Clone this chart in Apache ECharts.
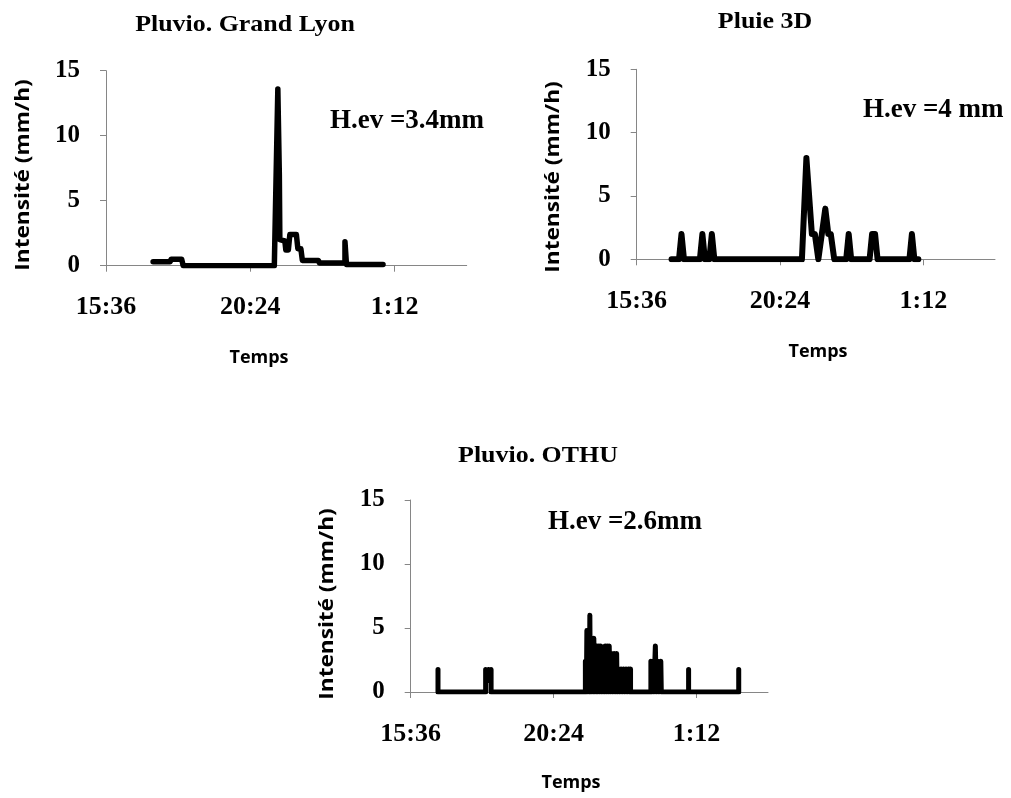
<!DOCTYPE html>
<html>
<head>
<meta charset="utf-8">
<script src="https://cdn.jsdelivr.net/npm/echarts@6/dist/echarts.min.js"></script>
<style>html,body{margin:0;padding:0;background:#fff}#c{width:1011px;height:798px}</style>
</head>
<body>
<div id="c"></div>
<script>
// ---- Data (clock times and intensities in mm/h) ----
const titles = ["Pluvio. Grand Lyon", "Pluie 3D", "Pluvio. OTHU"];
const hevLabels = ["H.ev =3.4mm", "H.ev =4 mm", "H.ev =2.6mm"];
const xTickLabels = ["15:36", "20:24", "1:12"];
const yTicks = [0, 5, 10, 15];

const grandLyonTime = ["17:10","17:44","17:46","18:07","18:10","21:12","21:19","21:22","21:23","21:33","21:35","21:40","21:43","21:56","21:59","22:05","22:08","22:40","22:42","23:33","23:33","23:36","23:36","0:49"];
const grandLyonValue = [0.3,0.3,0.5,0.5,0,0,13.6,7.0,2.0,1.9,1.2,1.2,2.4,2.4,1.3,1.3,0.4,0.4,0.2,0.2,1.85,1.85,0.1,0.1];

const pluie3dTime = ["16:46","17:01","17:06","17:11","17:43","17:48","17:53","18:02","18:07","18:12","21:08","21:17","21:28","21:34","21:41","21:55","22:01","22:06","22:13","22:37","22:42","22:47","23:24","23:29","23:35","23:40","0:44","0:49","0:54","1:02"];
const pluie3dValue = [0,0,2,0,0,2,0,0,2,0,0,8,2,2,0,4,2,2,0,0,2,0,0,2,2,0,0,2,0,0];

const othuTime = ["16:31","16:31","18:07","18:07","18:10","18:13","18:16","18:18","18:18",
  "21:28","21:28","21:30","21:31","21:33","21:34","21:36","21:37","21:38","21:39","21:41","21:42","21:44","21:45","21:47",
  "21:48","21:50","21:51","21:53","21:55","21:57","21:59","22:01","22:04","22:06","22:08","22:10","22:12","22:14","22:16","22:18",
  "22:21","22:23","22:26","22:28","22:31","22:32","22:35","22:37","22:40","22:42","22:45","22:47","22:50","22:52","22:55","22:57","22:59","22:59",
  "23:40","23:40","23:42","23:44","23:46","23:49","23:51","23:54","23:56","0:00","0:01",
  "0:56","0:56","0:56","2:37","2:37"];
const othuValue = [1.75,0,0,1.75,0.9,1.75,0.9,1.75,0,
  0,2.4,0,4.8,0,4.8,0,6.0,0,4.2,0,4.2,0,4.2,0,
  3.6,0,3.6,0,3.6,0,3.6,0,1.2,0,3.6,0,3.6,0,3.6,0,
  3.0,0,3.0,0,3.0,0,1.8,0,1.8,0,1.8,0,1.8,0,1.8,0,1.8,0,
  0,2.4,0,2.4,0,3.6,0,2.4,0,2.4,0,
  0,1.75,0,0,1.75];

// ---- helpers ----
const T0 = 15 * 60 + 36; // 15:36 axis origin
function toOffsetHours(t) {
  const p = t.split(':').map(Number);
  let mins = p[0] * 60 + p[1];
  if (mins < T0 - 60) mins += 1440;
  return (mins - T0) / 60;
}
function fmtClock(v) {
  let mins = Math.round(v * 60) + T0;
  mins = ((mins % 1440) + 1440) % 1440;
  return Math.floor(mins / 60) + ':' + String(mins % 60).padStart(2, '0');
}
function pairs(times, values) { return times.map((t, i) => [toOffsetHours(t), values[i]]); }

const seriesData = [pairs(grandLyonTime, grandLyonValue), pairs(pluie3dTime, pluie3dValue), pairs(othuTime, othuValue)];

const grids = [
  {left: 106, top: 70.7, width: 360.7, height: 195},
  {left: 636.7, top: 69.3, width: 358.3, height: 190},
  {left: 410.7, top: 500, width: 357.3, height: 192}
];
const serif = '"Liberation Serif", "Times New Roman", serif';
const sans = '"Open Sans", "Liberation Sans", sans-serif';
const axisGray = '#868686';
const xTickVals = xTickLabels.map((s, i) => i * 4.8);
const lineWidths = [5.5, 6, 5];

const xAxes = grids.map((g, i) => ({
  gridIndex: i, type: 'value', min: 0, max: 12, interval: 4.8,
  axisLine: {show: true, onZero: false, lineStyle: {color: axisGray, width: 1}},
  axisTick: {show: true, length: 6, lineStyle: {color: axisGray}, customValues: xTickVals},
  splitLine: {show: false},
  axisLabel: {customValues: xTickVals, formatter: fmtClock, margin: 29, color: '#000',
    fontFamily: serif, fontWeight: 'bold', fontSize: 26}
}));
const yAxes = grids.map((g, i) => ({
  gridIndex: i, type: 'value', min: yTicks[0], max: yTicks[yTicks.length - 1], interval: 5,
  axisLine: {show: true, lineStyle: {color: axisGray, width: 1}},
  axisTick: {show: true, length: 6, lineStyle: {color: axisGray}},
  splitLine: {show: false},
  axisLabel: {margin: 26, color: '#000', fontFamily: serif, fontWeight: 'bold', fontSize: 25}
}));
const series = seriesData.map((d, i) => ({
  type: 'line', xAxisIndex: i, yAxisIndex: i, data: d, showSymbol: false, symbol: 'none',
  lineStyle: {color: '#000', width: lineWidths[i], cap: 'round', join: 'round'}, silent: true
}));

function txt(text, x, y, font, opts) {
  return Object.assign({
    type: 'text', x: x, y: y, silent: true,
    style: {text: text, fill: '#000', font: font, textAlign: 'center', textVerticalAlign: 'middle', align: 'center', verticalAlign: 'middle'}
  }, opts || {});
}
const titlePos = [[245, 25], [765, 22], [538, 456]];
const hevPos = [[330, 121], [863, 110], [548, 522]];
const yNamePos = [[23, 175], [553, 177], [327, 604]];
const tempsPos = [[259, 358], [818, 352], [571, 783]];
const graphics = [];
for (let i = 0; i < 3; i++) {
  graphics.push(txt(titles[i], titlePos[i][0], titlePos[i][1], 'bold 24px ' + serif, {scaleX: 1.08}));
  const h = txt(hevLabels[i], hevPos[i][0], hevPos[i][1], 'bold 27px ' + serif);
  h.style.textAlign = 'left'; h.style.align = 'left';
  graphics.push(h);
  graphics.push(txt('Intensité (mm/h)', yNamePos[i][0], yNamePos[i][1], 'bold 20px ' + sans, {rotation: Math.PI / 2, scaleX: 1.13}));
  graphics.push(txt('Temps', tempsPos[i][0], tempsPos[i][1], 'bold 18px ' + sans));
}

const chart = echarts.init(document.getElementById('c'), null, {renderer: 'canvas'});
chart.setOption({
  animation: false,
  backgroundColor: '#fff',
  grid: grids,
  xAxis: xAxes,
  yAxis: yAxes,
  series: series,
  graphic: graphics
});
</script>
</body>
</html>
